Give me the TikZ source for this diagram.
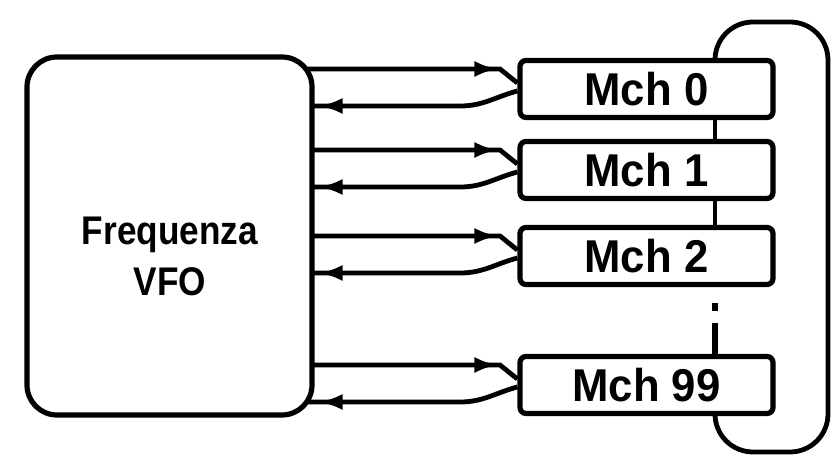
\documentclass[tikz,border=0pt]{standalone}
\usepackage{fontspec}
\setmainfont{Liberation Sans}
\usepackage{tikz}
\usetikzlibrary{arrows.meta, positioning, calc, backgrounds, decorations.markings}

\begin{document}
\begin{tikzpicture}[x=0.5pt, y=0.5pt,
    blk/.style={draw, fill=white, line width=2.6pt, rounded corners=15pt, minimum width=142.5pt, minimum height=179pt},
    mch/.style={draw, line width=2.6pt, rounded corners=3pt, minimum width=126.5pt, minimum height=28.5pt, font=\fontsize{23}{26}\selectfont\bfseries\addfontfeature{FakeStretch=0.95}},
    wire/.style={line width=2.4pt},
    fwd/.style={wire, postaction={decorate}, decoration={markings, mark=at position -12pt with {\arrow{Latex[length=12pt,width=8pt]}}}},
    bwd/.style={wire, postaction={decorate}, decoration={markings, mark=at position -7pt with {\arrow{Latex[length=12pt,width=8pt]}}}}]
  \useasboundingbox (0,0) rectangle (832,455);

  \node[blk] (vfo) at (169.5,219) {};
  \node[font=\fontsize{20}{25.5}\selectfont\bfseries\addfontfeature{FakeStretch=0.88}, align=center] (vfolbl) at (170,199) {Frequenza\\VFO};

  \coordinate (bus) at (715,455);

  \foreach \n/\yy in {0/366,1/285,2/199,99/70} {
    \node[mch] (m\n) at (646.5,\yy) {Mch \n};
    \coordinate (t\n) at (500,\yy+20);
    \coordinate (r\n) at (460,\yy-17);
    \begin{scope}[on background layer]
      \draw[fwd] ($(vfo.east |- t\n)+(-10,0)$) -- (t\n) -- ($(m\n.west)+(0,6)$);
      \draw[bwd] ($(m\n.west)+(0,-2)$) to[out=195, in=0] (r\n) -- ($(vfo.east |- r\n)+(-10,0)$);
    \end{scope}
  }

  % memory chain
  \draw[wire] (m0.south -| bus) -- (m1.north -| bus);
  \draw[wire] (m1.south -| bus) -- (m2.north -| bus);
  \draw[wire, line width=2.8pt, dash pattern=on 0pt off 8pt on 4pt off 6pt on 30pt] (m2.south -| bus) -- (m99.north -| bus);
  \draw[wire, rounded corners=19pt] (m0.north -| bus) -- (715,433) -- (828,433) -- (828,3) -- (715,3) -- (m99.south -| bus);
\end{tikzpicture}
\end{document}
